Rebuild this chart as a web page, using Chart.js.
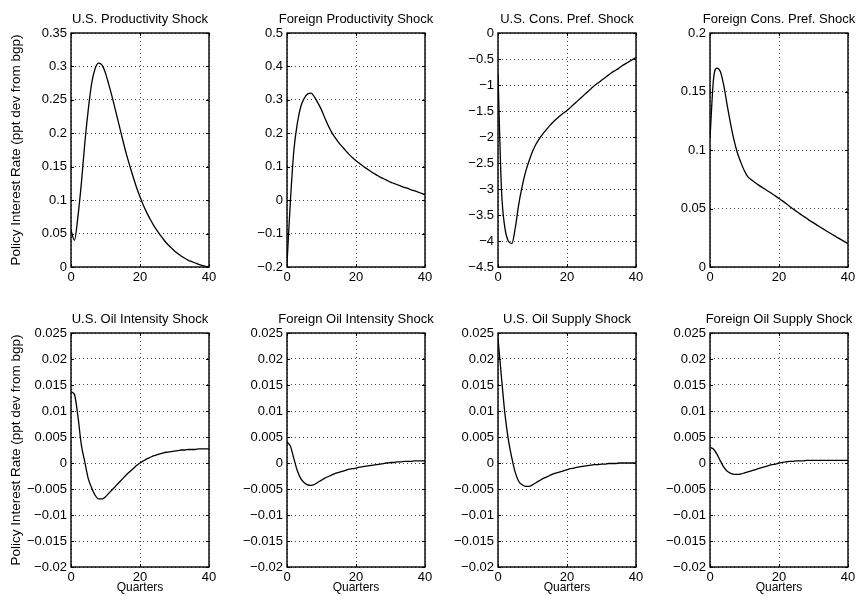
<!DOCTYPE html>
<html>
<head>
<meta charset="utf-8">
<script src="https://cdn.jsdelivr.net/npm/chart.js@4.4.0/dist/chart.umd.min.js"></script>
<style>
  html, body { margin: 0; padding: 0; background: #fff; overflow: hidden; }
  #page { position: relative; width: 859px; height: 596px; overflow: hidden; }
  .panel { position: absolute; }
</style>
</head>
<body>
<div id="page"></div>
<script>
// quarters after the shock
const quarters = [0, 1, 2, 3, 4, 5, 6, 7, 8, 9, 10, 11, 12, 13, 14, 15, 16, 17, 18, 19, 20,
  21, 22, 23, 24, 25, 26, 27, 28, 29, 30, 31, 32, 33, 34, 35, 36, 37, 38, 39, 40];

const titles = [
  "U.S. Productivity Shock", "Foreign Productivity Shock", "U.S. Cons. Pref. Shock", "Foreign Cons. Pref. Shock",
  "U.S. Oil Intensity Shock", "Foreign Oil Intensity Shock", "U.S. Oil Supply Shock", "Foreign Oil Supply Shock"
];

// policy rate responses (ppt dev from bgp)
const usProd = [0.055, 0.04, 0.075, 0.125, 0.185, 0.235, 0.275, 0.297, 0.305, 0.302, 0.29, 0.272, 0.253, 0.232,
  0.211, 0.19, 0.17, 0.152, 0.135, 0.119, 0.105, 0.092, 0.081, 0.071, 0.062, 0.054, 0.047, 0.04, 0.034, 0.029,
  0.024, 0.02, 0.016, 0.013, 0.01, 0.008, 0.006, 0.004, 0.0025, 0.001, 0.0];
const foreignProd = [-0.19, 0.0, 0.15, 0.23, 0.28, 0.305, 0.318, 0.32, 0.308, 0.29, 0.27, 0.245, 0.222, 0.202,
  0.186, 0.172, 0.16, 0.148, 0.137, 0.127, 0.118, 0.11, 0.102, 0.095, 0.088, 0.081, 0.075, 0.069, 0.064, 0.059,
  0.054, 0.05, 0.046, 0.042, 0.038, 0.035, 0.031, 0.028, 0.024, 0.02, 0.016];
const usConsPref = [-0.8, -3.0, -3.75, -4.0, -4.05, -3.75, -3.3, -2.95, -2.67, -2.46, -2.28, -2.14, -2.03, -1.94,
  -1.86, -1.78, -1.71, -1.65, -1.59, -1.54, -1.49, -1.43, -1.37, -1.31, -1.25, -1.19, -1.13, -1.07, -1.01, -0.96,
  -0.91, -0.86, -0.81, -0.76, -0.72, -0.68, -0.63, -0.59, -0.55, -0.51, -0.47];
const foreignConsPref = [0.11, 0.16, 0.17, 0.167, 0.155, 0.138, 0.122, 0.108, 0.097, 0.089, 0.082, 0.077, 0.0745,
  0.0722, 0.0702, 0.0683, 0.0664, 0.0645, 0.0626, 0.0606, 0.0586, 0.0565, 0.0543, 0.052, 0.0498, 0.0477, 0.0456,
  0.0436, 0.0416, 0.0396, 0.0377, 0.0358, 0.034, 0.0322, 0.0304, 0.0286, 0.0268, 0.0251, 0.0234, 0.0217, 0.02];
const usOilInt = [0.0137, 0.0132, 0.009, 0.0035, 0.0002, -0.003, -0.0048, -0.0062, -0.0069, -0.0069, -0.0065,
  -0.0058, -0.0051, -0.0044, -0.0037, -0.003, -0.0023, -0.0017, -0.0011, -0.0005, 0.0, 0.0004, 0.0008, 0.0011,
  0.0014, 0.0016, 0.0018, 0.002, 0.0021, 0.0022, 0.0023, 0.0024, 0.0025, 0.0025, 0.0026, 0.0026, 0.0026,
  0.0027, 0.0027, 0.0027, 0.0027];
const foreignOilInt = [0.004, 0.0032, 0.0008, -0.0015, -0.003, -0.0038, -0.0042, -0.0043, -0.0041, -0.0037,
  -0.0033, -0.0029, -0.0026, -0.0023, -0.002, -0.0018, -0.0016, -0.0014, -0.0012, -0.0011, -0.001, -0.0008,
  -0.0007, -0.0006, -0.0005, -0.0004, -0.0003, -0.0002, -0.0001, 0.0, 0.0001, 0.0001, 0.0002, 0.0002, 0.0003,
  0.0003, 0.0003, 0.0004, 0.0004, 0.0004, 0.0004];
const usOilSupply = [0.024, 0.0165, 0.0095, 0.0045, 0.001, -0.0018, -0.0035, -0.0042, -0.0045, -0.0045, -0.0042,
  -0.0038, -0.0034, -0.003, -0.0027, -0.0024, -0.0021, -0.0019, -0.0017, -0.0015, -0.0013, -0.0011, -0.001,
  -0.0008, -0.0007, -0.0006, -0.0005, -0.0004, -0.0003, -0.0003, -0.0002, -0.0002, -0.0001, -0.0001, -0.0001,
  0.0, 0.0, 0.0, 0.0, 0.0, 0.0];
const foreignOilSupply = [0.003, 0.0027, 0.0017, 0.0004, -0.0008, -0.0016, -0.002, -0.0022, -0.0022, -0.0021,
  -0.0019, -0.0017, -0.0015, -0.0013, -0.0011, -0.0009, -0.0007, -0.0005, -0.0003, -0.0002, 0.0, 0.0001, 0.0002,
  0.0003, 0.0003, 0.0004, 0.0004, 0.0004, 0.0005, 0.0005, 0.0005, 0.0005, 0.0005, 0.0005, 0.0005, 0.0005,
  0.0005, 0.0005, 0.0005, 0.0005, 0.0005];

const series = [usProd, foreignProd, usConsPref, foreignConsPref, usOilInt, foreignOilInt, usOilSupply, foreignOilSupply];

// axis ranges
const yMin = [0, -0.2, -4.5, 0, -0.02, -0.02, -0.02, -0.02];
const yMax = [0.35, 0.5, 0, 0.2, 0.025, 0.025, 0.025, 0.025];
const yStep = [0.05, 0.1, 0.5, 0.05, 0.005, 0.005, 0.005, 0.005];
const xTicks = [0, 20, 40];

const yLabel = "Policy Interest Rate (ppt dev from bgp)";
const xLabel = "Quarters";

// page layout of the plot boxes
const colLeft = [71, 287, 498, 710];
const rowTop = [33, 333];
const plotW = 138, plotH = 234;
const axisW = 66, topH = 33;
const FONT = "'Liberation Sans', Arial, Helvetica, sans-serif";

function fmt(v) {
  const s = parseFloat(Number(v).toFixed(4)).toString();
  return s.replace("-", "\u2212");
}

// black box with inward tick marks, like the original figure
const boxPlugin = {
  id: "box",
  afterDatasetsDraw(chart) {
    const { ctx, chartArea: a, scales } = chart;
    ctx.save();
    ctx.strokeStyle = "#000";
    ctx.lineWidth = 1;
    ctx.beginPath();
    scales.y.ticks.forEach(t => {
      const py = Math.round(scales.y.getPixelForValue(t.value)) + 0.5;
      ctx.moveTo(a.left, py); ctx.lineTo(a.left + 3, py);
      ctx.moveTo(a.right, py); ctx.lineTo(a.right - 3, py);
    });
    scales.x.ticks.forEach(t => {
      const px = Math.round(scales.x.getPixelForValue(t.value)) + 0.5;
      ctx.moveTo(px, a.bottom); ctx.lineTo(px, a.bottom - 3);
      ctx.moveTo(px, a.top); ctx.lineTo(px, a.top + 3);
    });
    ctx.stroke();
    ctx.lineWidth = 1.4;
    ctx.strokeRect(a.left, a.top, a.width, a.height);
    ctx.restore();
  }
};

const page = document.getElementById("page");

series.forEach((vals, i) => {
  const row = Math.floor(i / 4), col = i % 4;
  const xh = row ? 28 : 22;
  const canvasW = axisW + plotW + axisW;
  const canvasH = topH + plotH + xh;

  const canvas = document.createElement("canvas");
  canvas.className = "panel";
  canvas.width = canvasW;
  canvas.height = canvasH;
  canvas.style.left = (colLeft[col] - axisW) + "px";
  canvas.style.top = (rowTop[row] - topH) + "px";
  page.appendChild(canvas);

  new Chart(canvas.getContext("2d"), {
    type: "line",
    data: {
      datasets: [{
        data: quarters.map((q, k) => ({ x: q, y: vals[k] })),
        borderColor: "#000",
        borderWidth: 1.3,
        pointRadius: 0,
        cubicInterpolationMode: "monotone",
        fill: false
      }]
    },
    options: {
      responsive: false,
      animation: false,
      layout: { padding: 0 },
      plugins: {
        legend: { display: false },
        tooltip: { enabled: false },
        title: {
          display: true,
          text: titles[i],
          color: "#000",
          font: { family: FONT, size: 13, weight: "normal", lineHeight: 1.2 },
          padding: { top: 12, bottom: 5.4 }
        }
      },
      scales: {
        x: {
          type: "linear",
          min: 0,
          max: 40,
          afterBuildTicks: s => { s.ticks = xTicks.map(v => ({ value: v })); },
          afterFit: s => { s.height = xh; },
          grid: { color: "#444", lineWidth: 1, drawTicks: false },
          border: { display: false, dash: [1, 3] },
          ticks: { color: "#000", padding: 3, maxRotation: 0, font: { family: FONT, size: 13 } },
          title: {
            display: row === 1,
            text: xLabel,
            color: "#000",
            font: { family: FONT, size: 12 },
            padding: { top: 0, bottom: 0 }
          }
        },
        y: {
          min: yMin[i],
          max: yMax[i],
          afterFit: s => { s.width = axisW; },
          grid: { color: "#444", lineWidth: 1, drawTicks: false },
          border: { display: false, dash: [1, 3] },
          ticks: {
            stepSize: yStep[i],
            color: "#000",
            padding: 4,
            font: { family: FONT, size: 13 },
            callback: v => fmt(v)
          },
          title: {
            display: col === 0,
            text: yLabel,
            color: "#000",
            font: { family: FONT, size: 13.5 },
            padding: { top: 3, bottom: 0 }
          }
        },
        // empty right-hand scale so the panel title centres over the box
        spacer: {
          type: "linear",
          position: "right",
          afterFit: s => { s.width = axisW; },
          ticks: { display: false },
          grid: { display: false },
          border: { display: false }
        }
      }
    },
    plugins: [boxPlugin]
  });
});
</script>
</body>
</html>
